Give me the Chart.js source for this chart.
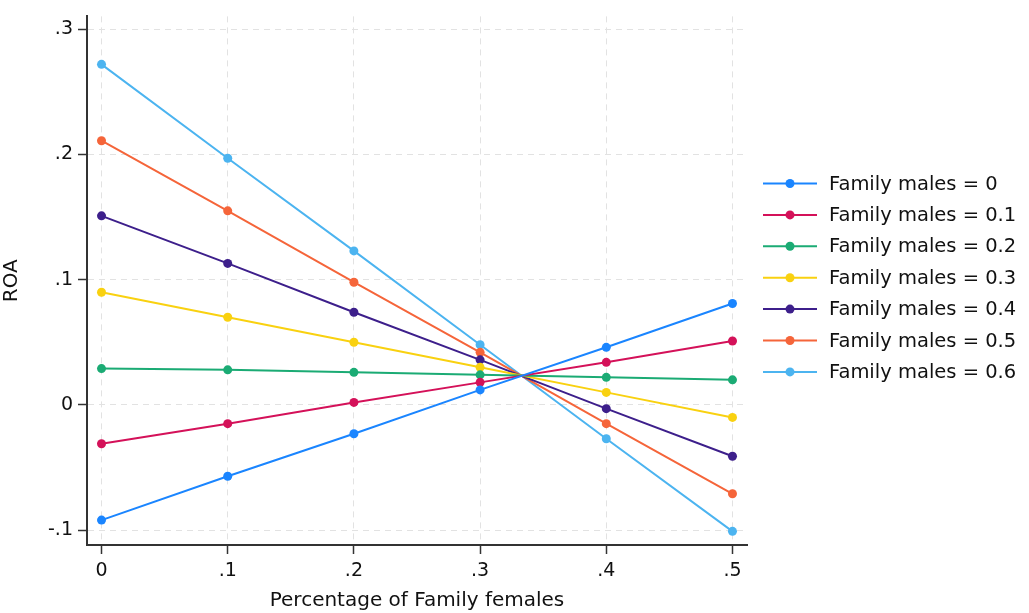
<!DOCTYPE html>
<html>
<head>
<meta charset="utf-8">
<script src="https://cdn.jsdelivr.net/npm/chart.js@4/dist/chart.umd.min.js"></script>
<style>
html,body{margin:0;padding:0;background:#fff;}
#wrap{width:1029px;height:613px;position:relative;}
</style>
</head>
<body>
<div id="wrap"><canvas id="c" width="1029" height="613"></canvas></div>
<script>
const xValues = [0, 0.1, 0.2, 0.3, 0.4, 0.5];
const xTickValues = [0, 0.1, 0.2, 0.3, 0.4, 0.5];
const xTickLabels = ["0", ".1", ".2", ".3", ".4", ".5"];
const yTickValues = [-0.1, 0, 0.1, 0.2, 0.3];
const yTickLabels = ["-.1", "0", ".1", ".2", ".3"];
const seriesNames = ["Family males = 0","Family males = 0.1","Family males = 0.2","Family males = 0.3","Family males = 0.4","Family males = 0.5","Family males = 0.6"];
const males0  = [-0.092, -0.057, -0.023, 0.012, 0.046, 0.081];
const males01 = [-0.031, -0.015, 0.002, 0.018, 0.034, 0.051];
const males02 = [0.029, 0.028, 0.026, 0.024, 0.022, 0.020];
const males03 = [0.090, 0.070, 0.050, 0.030, 0.010, -0.010];
const males04 = [0.151, 0.113, 0.074, 0.036, -0.003, -0.041];
const males05 = [0.211, 0.155, 0.098, 0.042, -0.015, -0.071];
const males06 = [0.272, 0.197, 0.123, 0.048, -0.027, -0.101];
const seriesValues = [males0, males01, males02, males03, males04, males05, males06];
const colors = ["#1a85ff","#d41159","#1bab74","#f9d110","#3d1f8b","#f5653a","#4cb4f0"];

const FONT = "'DejaVu Sans', sans-serif";
const TEXT = '#111111';

const datasets = seriesValues.map((vals, i) => ({
  label: seriesNames[i],
  data: vals.map((v, j) => ({x: xValues[j], y: v})),
  borderColor: colors[i],
  backgroundColor: colors[i],
  borderWidth: 2,
  pointRadius: 4.5,
  pointHoverRadius: 4.5,
  pointBorderWidth: 0,
  tension: 0
}));

const legendPlugin = {
  id: 'stataLegend',
  afterDraw(chart) {
    const ctx = chart.ctx;
    ctx.save();
    const x0 = 763, x1 = 817, tx = 829;
    const y0 = 183.5, dy = 31.4;
    chart.data.datasets.forEach((ds, i) => {
      const y = y0 + i * dy;
      ctx.strokeStyle = ds.borderColor;
      ctx.lineWidth = 2;
      ctx.beginPath(); ctx.moveTo(x0, y); ctx.lineTo(x1, y); ctx.stroke();
      ctx.fillStyle = ds.backgroundColor;
      ctx.beginPath(); ctx.arc((x0 + x1) / 2, y, 4.5, 0, Math.PI * 2); ctx.fill();
      ctx.fillStyle = TEXT;
      ctx.font = "19.5px " + FONT;
      ctx.textBaseline = 'middle';
      ctx.textAlign = 'left';
      ctx.fillText(ds.label, tx, y + 1);
    });
    ctx.restore();
  }
};

new Chart(document.getElementById('c'), {
  type: 'line',
  data: { datasets },
  plugins: [legendPlugin],
  options: {
    responsive: false,
    animation: false,
    devicePixelRatio: 1,
    layout: { padding: { top: 12, right: 282, left: 0, bottom: 0 } },
    plugins: { legend: { display: false }, tooltip: { enabled: false } },
    scales: {
      x: {
        type: 'linear',
        min: -0.0115,
        max: 0.5115,
        afterBuildTicks: s => { s.ticks = xTickValues.map(v => ({value: v})); },
        afterFit: s => { s.height = 68; },
        ticks: {
          callback: (v) => { const k = xTickValues.findIndex(t => Math.abs(t - v) < 1e-9); return k >= 0 ? xTickLabels[k] : ''; },
          font: { family: FONT, size: 19 },
          color: TEXT,
          padding: 6,
          maxRotation: 0
        },
        grid: {
          color: '#e2e2e2',
          lineWidth: 1,
          tickColor: '#333',
          tickLength: 9,
          tickWidth: 1.5,
          tickBorderDash: [],
          drawOnChartArea: true
        },
        border: { display: true, color: '#333', width: 2, dash: [6, 5] },
        title: {
          display: true,
          text: 'Percentage of Family females',
          font: { family: FONT, size: 20 },
          color: TEXT,
          padding: { top: 0, bottom: 0 }
        }
      },
      y: {
        type: 'linear',
        min: -0.1119,
        max: 0.3103,
        afterBuildTicks: s => { s.ticks = yTickValues.map(v => ({value: v})); },
        afterFit: s => { s.width = 87; },
        ticks: {
          callback: (v) => { const k = yTickValues.findIndex(t => Math.abs(t - v) < 1e-9); return k >= 0 ? yTickLabels[k] : ''; },
          font: { family: FONT, size: 19 },
          color: TEXT,
          padding: 5
        },
        grid: {
          color: '#e2e2e2',
          lineWidth: 1,
          tickColor: '#333',
          tickLength: 9,
          tickWidth: 1.5,
          tickBorderDash: []
        },
        border: { display: true, color: '#333', width: 2, dash: [6, 5] },
        title: {
          display: true,
          text: 'ROA',
          font: { family: FONT, size: 20 },
          color: TEXT,
          padding: { top: 0, bottom: 2 }
        }
      }
    }
  }
});
</script>
</body>
</html>
